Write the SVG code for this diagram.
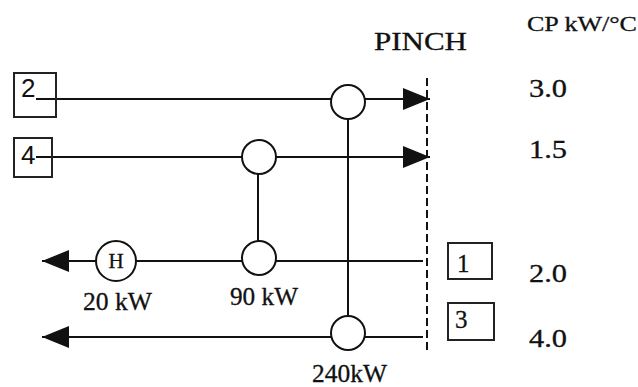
<svg xmlns="http://www.w3.org/2000/svg" width="638" height="387" viewBox="0 0 638 387">
<defs>
<style>
.ln{stroke:#111;stroke-width:2;fill:none}
.hx{stroke:#111;stroke-width:2;fill:#fff}
.bx{stroke:#222;stroke-width:2;fill:none}
.t{font-family:"Liberation Serif","Times New Roman",serif;fill:#111;stroke:#111;stroke-width:0.3}
.s{font-family:"Liberation Sans",Arial,sans-serif;fill:#111}
</style>
<marker id="arr" markerUnits="userSpaceOnUse" markerWidth="30" markerHeight="24" refX="27" refY="11" orient="auto">
<path d="M0,0 L27,11 L0,22 Z" fill="#111"/>
</marker>
</defs>
<rect width="638" height="387" fill="#fff"/>
<g id="connectors">
<line class="ln" x1="36" y1="99" x2="430" y2="99" marker-end="url(#arr)"/>
<line class="ln" x1="36" y1="157" x2="430" y2="157" marker-end="url(#arr)"/>
<line class="ln" x1="423" y1="261" x2="42" y2="261" marker-end="url(#arr)"/>
<line class="ln" x1="423" y1="337" x2="42" y2="337" marker-end="url(#arr)"/>
<line class="ln" x1="348" y1="119" x2="348" y2="316"/>
<line class="ln" x1="258" y1="174" x2="258" y2="241"/>
<line class="ln" x1="427" y1="78" x2="427" y2="353" stroke-dasharray="8 4"/>
</g>
<g id="pinch">
<text class="t" x="374" y="50" font-size="26" textLength="93" lengthAdjust="spacingAndGlyphs">PINCH</text>
</g>
<g id="cp-header">
<text class="t" x="527" y="31" font-size="22" textLength="110" lengthAdjust="spacingAndGlyphs">CP kW/°C</text>
</g>
<g id="stream2">
<rect class="bx" x="14" y="73" width="42" height="44"/>
<text class="s" x="21" y="97" font-size="26">2</text>
<text class="t" x="529" y="97" font-size="25" textLength="38" lengthAdjust="spacingAndGlyphs">3.0</text>
</g>
<g id="stream4">
<rect class="bx" x="14" y="138" width="38" height="39"/>
<text class="s" x="21" y="164" font-size="26">4</text>
<text class="t" x="529" y="158" font-size="25" textLength="38" lengthAdjust="spacingAndGlyphs">1.5</text>
</g>
<g id="stream1">
<rect class="bx" x="448" y="243" width="44" height="36"/>
<text class="t" x="457" y="272" font-size="25">1</text>
<text class="t" x="529" y="282" font-size="25" textLength="38" lengthAdjust="spacingAndGlyphs">2.0</text>
</g>
<g id="stream3">
<rect class="bx" x="448" y="303" width="46" height="37"/>
<text class="t" x="455" y="328" font-size="25">3</text>
<text class="t" x="529" y="347" font-size="25" textLength="38" lengthAdjust="spacingAndGlyphs">4.0</text>
</g>
<g id="hx-240">
<circle class="hx" cx="348" cy="102" r="17"/>
<circle class="hx" cx="348" cy="333" r="17"/>
<text class="t" x="312" y="382" font-size="25" textLength="75" lengthAdjust="spacingAndGlyphs">240kW</text>
</g>
<g id="hx-90">
<circle class="hx" cx="259" cy="157" r="17"/>
<circle class="hx" cx="259" cy="258" r="17"/>
<text class="t" x="230" y="305" font-size="25" textLength="68" lengthAdjust="spacingAndGlyphs">90 kW</text>
</g>
<g id="heater">
<circle class="hx" cx="116" cy="261" r="20"/>
<text class="t" x="116" y="268" font-size="21" text-anchor="middle">H</text>
<text class="t" x="83" y="310" font-size="25" textLength="69" lengthAdjust="spacingAndGlyphs">20 kW</text>
</g>
</svg>
